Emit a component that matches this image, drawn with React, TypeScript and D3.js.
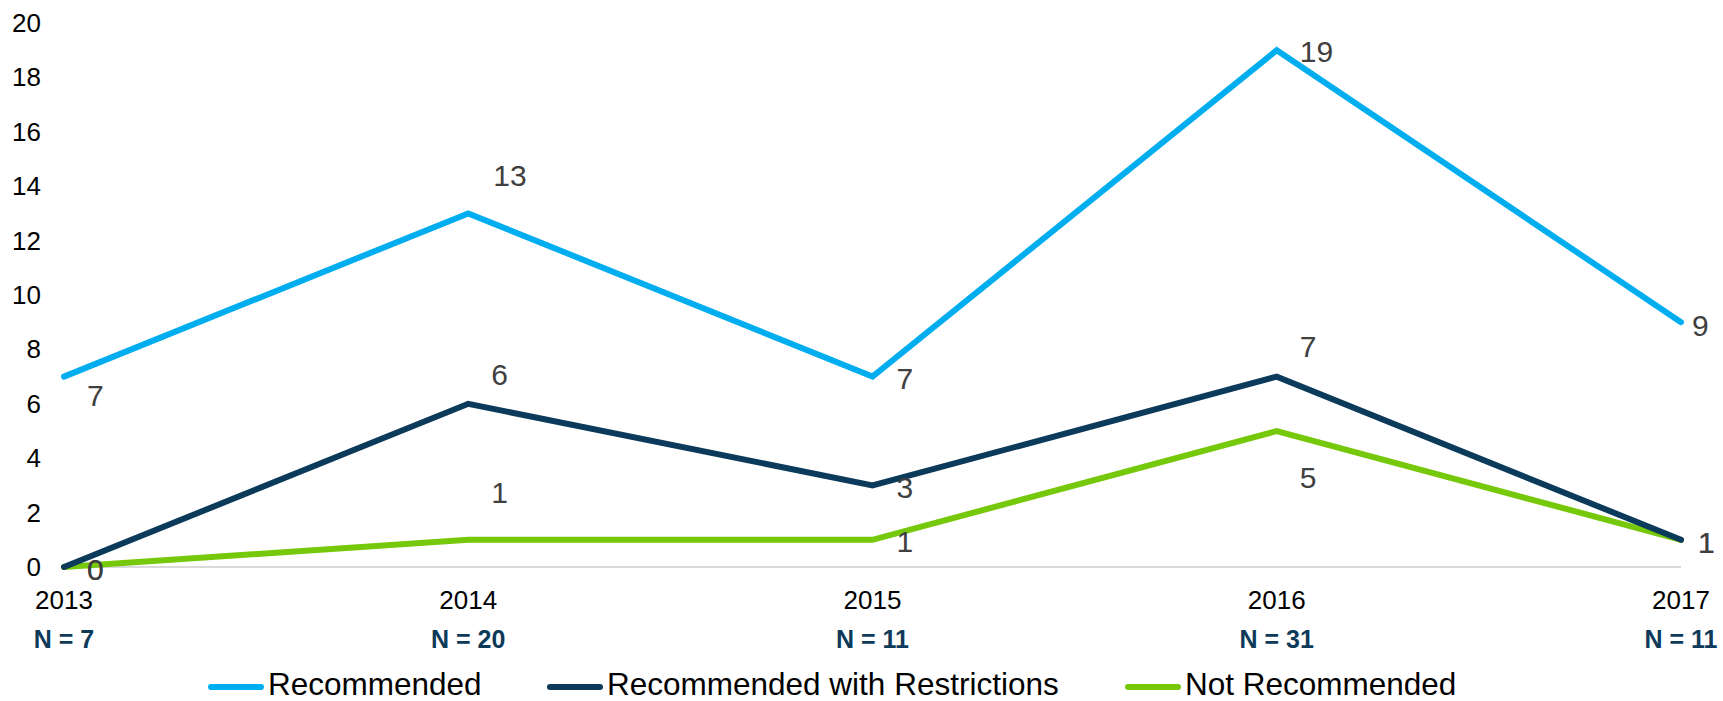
import React from "react";
import * as d3 from "d3";

const years = ["2013", "2014", "2015", "2016", "2017"];
const nLabels = ["N = 7", "N = 20", "N = 11", "N = 31", "N = 11"];
const recommended = [7, 13, 7, 19, 9];
const withRestrictions = [0, 6, 3, 7, 1];
const notRecommended = [0, 1, 1, 5, 1];
const yTicks = [0, 2, 4, 6, 8, 10, 12, 14, 16, 18, 20];
const seriesNames = ["Recommended", "Recommended with Restrictions", "Not Recommended"];

const W = 1723;
const H = 701;
const FONT = "'Liberation Sans', Arial, sans-serif";
const COLORS = ["#00AEEF", "#0B3A5B", "#76C80A"];

// label offsets (dx, dy) relative to each point, layout only
const labelOffsets: [number, number][][] = [
  [[23, 29], [25, -27], [24, 12], [23, 12], [11, 14]],
  [[23, 13], [23, -19], [24, 13], [23, -20], [17, 13]],
  [[23, 13], [23, -37], [24, 12], [23, 57], [17, 13]],
];

export default function App() {
  const x = d3.scalePoint<string>().domain(years).range([64, 1681]);
  const y = d3.scaleLinear().domain([0, 20]).range([567, 23]);
  const series = [recommended, withRestrictions, notRecommended];
  const line = d3
    .line<number>()
    .x((_, i) => x(years[i]) as number)
    .y((d) => y(d));

  const legendItems = [
    { lx: 208, tx: 268 },
    { lx: 547, tx: 607 },
    { lx: 1125, tx: 1185 },
  ];

  return (
    <svg
      width={W}
      height={H}
      style={{ position: "absolute", left: 0, top: 0, background: "#fff" }}
      fontFamily={FONT}
    >
      <line x1={x(years[0])} x2={x(years[4])} y1={y(0)} y2={y(0)} stroke="#d9d9d9" strokeWidth={2} />
      {yTicks.map((t) => (
        <text key={t} x={41} y={y(t) + 9} textAnchor="end" fontSize={26} fill="#000">
          {t}
        </text>
      ))}
      {years.map((yr, i) => (
        <g key={yr}>
          <text x={x(yr)} y={609} textAnchor="middle" fontSize={26} fill="#000">
            {yr}
          </text>
          <text x={x(yr)} y={648} textAnchor="middle" fontSize={25} fontWeight="bold" fill="#0E3A5A">
            {nLabels[i]}
          </text>
        </g>
      ))}
      {[2, 1, 0].map((si) => (
        <path
          key={si}
          d={line(series[si]) || ""}
          fill="none"
          stroke={COLORS[si]}
          strokeWidth={6}
          strokeLinejoin="miter"
          strokeLinecap="round"
        />
      ))}
      {series.map((s, si) =>
        s.map((v, i) => (
          <text
            key={`${si}-${i}`}
            x={(x(years[i]) as number) + labelOffsets[si][i][0]}
            y={y(v) + labelOffsets[si][i][1]}
            fontSize={30}
            fill="#404040"
          >
            {v}
          </text>
        ))
      )}
      {seriesNames.map((name, i) => (
        <g key={name}>
          <line
            x1={legendItems[i].lx + 3}
            x2={legendItems[i].lx + 53}
            y1={687}
            y2={687}
            stroke={COLORS[i]}
            strokeWidth={6}
            strokeLinecap="round"
          />
          <text x={legendItems[i].tx} y={695} fontSize={31.5} fill="#000">
            {name}
          </text>
        </g>
      ))}
    </svg>
  );
}
